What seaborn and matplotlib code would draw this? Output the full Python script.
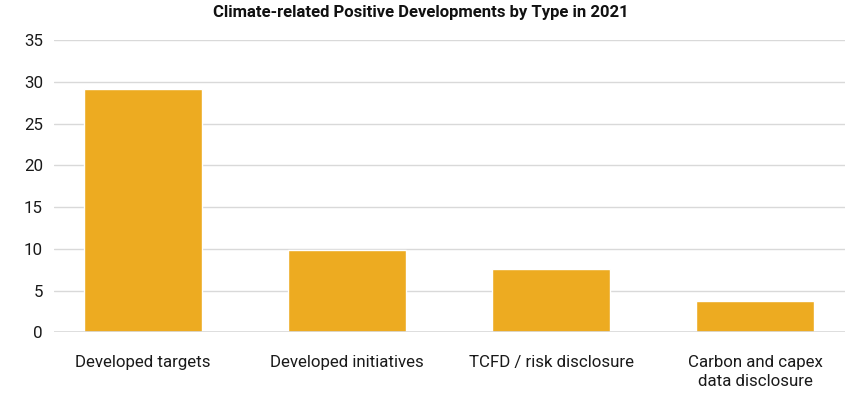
import matplotlib
matplotlib.use("Agg")
import matplotlib.pyplot as plt
import seaborn as sns
import pandas as pd

categories = ["Developed targets", "Developed initiatives", "TCFD / risk disclosure",
              "Carbon and capex\ndata disclosure"]
values = [29.2, 9.9, 7.6, 3.75]
yticks = [0, 5, 10, 15, 20, 25, 30, 35]
title = "Climate-related Positive Developments by Type in 2021"

sns.set_theme(style="white")
plt.rcParams['font.family'] = ['Roboto', 'DejaVu Sans']

df = pd.DataFrame({"category": categories, "value": values})

fig = plt.figure(figsize=(8.6, 3.99), dpi=100)
ax = fig.add_axes([54/860, 1 - 332.3/399, (845-54)/860, (332.3-40.3)/399])

sns.barplot(data=df, x="category", y="value", color="#EDAB21", saturation=1,
            width=0.578, ax=ax, zorder=3)

ax.set_ylim(0, 35)
ax.set_xlim(-0.436, 3.44)
ax.set_yticks(yticks)
ax.yaxis.grid(True, color="#d9d9d9", linewidth=1, zorder=0)
ax.set_axisbelow(True)
ax.axhline(0, color="#d9d9d9", linewidth=1.2, zorder=4)
for s in ax.spines.values():
    s.set_visible(False)
ax.set_xlabel("")
ax.set_ylabel("")
ax.tick_params(axis="both", length=0, labelsize=12.2, colors="#1a1a1a")
ax.tick_params(axis="x", pad=16)
ax.tick_params(axis="y", pad=8)
for lbl in ax.get_xticklabels():
    lbl.set_linespacing(1.35)

fig.text(421/860, 1 - 12/399, title, ha="center", va="center",
         fontsize=12, fontweight="bold", color="#111111")

fig.savefig("out.png", dpi=100)
